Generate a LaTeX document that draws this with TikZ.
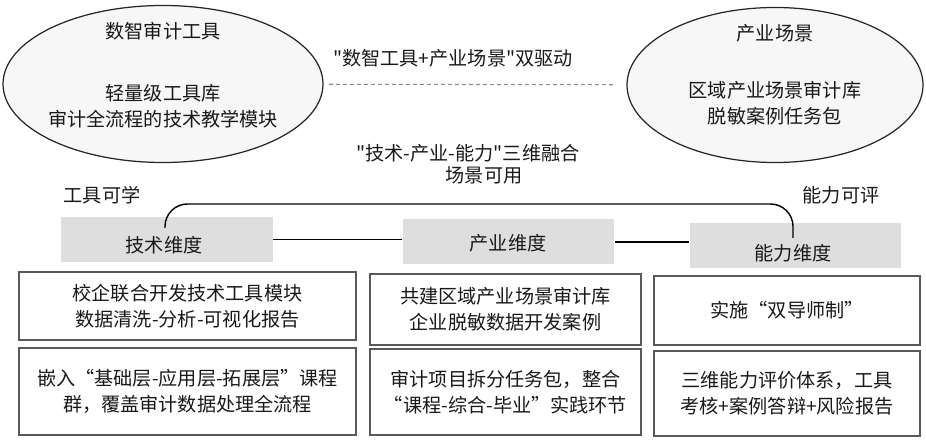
\documentclass[tikz,border=0pt]{standalone}
\usepackage{fontspec}
\setmainfont{Noto Sans CJK SC}[Ligatures=TeXOff]
\usetikzlibrary{shapes.geometric}

\tikzset{
	oval/.style 2 args={draw=black!85,line width=0.7pt,fill=black!3,ellipse,inner sep=0pt,minimum width=#1*0.02cm,minimum height=#2*0.02cm},
	dimbox/.style={fill=black!13,inner sep=0pt,minimum width=4.23cm,minimum height=0.9cm},
	cellbox/.style 2 args={draw=black!65,line width=0.6pt,align=center,inner sep=0pt,minimum width=#1*0.02cm,minimum height=#2*0.02cm},
	txt/.style={align=center,inner sep=0pt},
	dashline/.style={draw=black!45,dash pattern=on 0.08cm off 0.06cm,line width=0.6pt}
}

\begin{document}
\begin{tikzpicture}[x=0.02cm,y=-0.02cm,font=\fontsize{10.9pt}{15pt}\selectfont,text=black!90]
		\useasboundingbox (0,0) rectangle (926,442);
		% two ovals and the dashed link
		\node[oval={320}{157}] (lov) at (163,84) {};
		\node[oval={296}{155}] (rov) at (775,85) {};
		\draw[dashline,shorten <=3pt,shorten >=6pt] (lov) -- (rov);
		\node[txt] (lovtitle) at (163,31) {数智审计工具};
		\node[txt] (lovbody) at (163,106) {轻量级工具库\\审计全流程的技术教学模块};
		\node[txt] (rovtitle) at (775,33) {产业场景};
		\node[txt] (rovbody) at (775,103) {区域产业场景审计库\\脱敏案例任务包};
		\node[txt] (drive) at (453,58) {"数智工具+产业场景"双驱动};
		\node[txt] (fuse) at (468,153) {"技术-产业-能力"三维融合};
		\node[txt] (usable) at (484,175) {场景可用};
		\node[txt] (learn) at (102,195) {工具可学};
		\node[txt] (rate) at (841,195) {能力可评};
		% three dimensions
		\node[dimbox] (tech) at (167,239.5) {};
		\node[dimbox] (ind) at (508.5,241.5) {};
		\node[dimbox] (abil) at (795.5,245.5) {};
		\node[txt] (techtxt) at (164,245) {技术维度};
		\node[txt] (indtxt) at (508,243) {产业维度};
		\node[txt] (abiltxt) at (793,253) {能力维度};
		\draw[line width=0.8pt] (tech.east) -- (tech.east -| ind.west);
		\draw[line width=0.8pt] (ind.east |- 0,242) -- (abil.west |- 0,242);
		\coordinate (arcL) at (165,228);
		\coordinate (arcR) at (793,238);
		\draw[line width=0.8pt,rounded corners=0.45cm] (arcL) -- (arcL |- 0,204) -- (arcR |- 0,204) -- (arcR);
		% boxes below
		\node[cellbox={337}{68}] (t1) at (187.5,306) {校企联合开发技术工具模块\\数据清洗-分析-可视化报告};
		\node[cellbox={337}{87}] (t2) at (187.5,391.5) {嵌入“基础层-应用层-拓展层”课程\\群，覆盖审计数据处理全流程};
		\node[cellbox={271}{71}] (i1) at (505.5,309.5) {共建区域产业场景审计库\\企业脱敏数据开发案例};
		\node[cellbox={271}{86}] (i2) at (505.5,392) {审计项目拆分任务包，整合\\“课程-综合-毕业”实践环节};
		\node[cellbox={266}{69}] (a1) at (787,310.5) {实施“双导师制”};
		\node[cellbox={266}{85}] (a2) at (787,393.5) {三维能力评价体系，工具\\考核+案例答辩+风险报告};
\end{tikzpicture}
\end{document}
